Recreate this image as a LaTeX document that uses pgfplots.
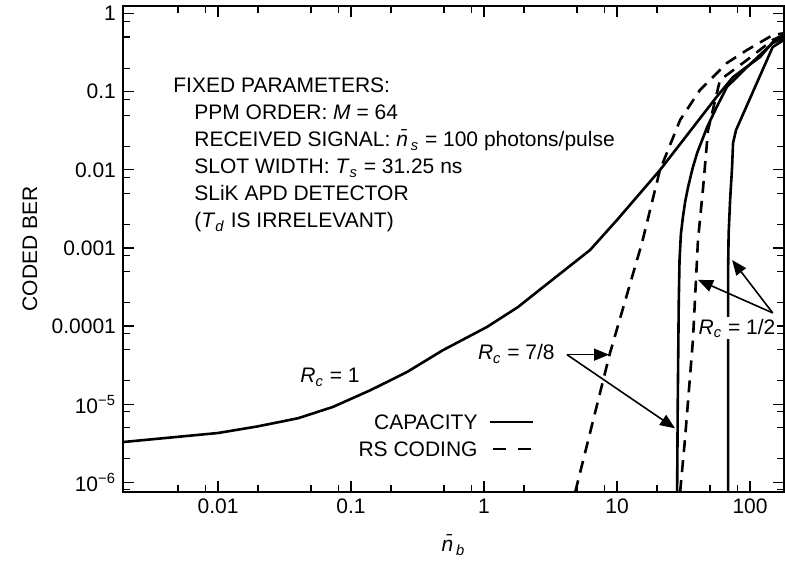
\documentclass[border=0pt]{standalone}
\usepackage{fontspec}
\setmainfont{Liberation Sans}
\usepackage{pgfplots}
\pgfplotsset{compat=1.18}
\usetikzlibrary{arrows.meta}

\newcommand\Rc{\textit{R}\textsubscript{\textit{c}}}
\newcommand\nb[1]{\textit{\={n}}\textsubscript{\textit{#1}}}

\tikzset{
  capline/.style={black, line width=1.3pt, no marks, line join=round},
  rsline/.style={black, line width=1.3pt, no marks, dash pattern=on 6pt off 4pt},
  ann/.style={line width=0.8pt, -{Triangle[length=7.5pt,width=6pt]}},
}

\begin{document}
\begin{tikzpicture}[font=\fontsize{10.5}{12.6}\selectfont]
\begin{axis}[
  scale only axis,
  width=330.5pt, height=243pt,
  xmode=log, ymode=log,
  xmin=0.00193, xmax=180,
  ymin=7.5e-7, ymax=1.25,
  xtick={0.01,0.1,1,10,100},
  xticklabels={0.01,0.1,1,10,100},
  ytick={1e-6,1e-5,1e-4,1e-3,1e-2,1e-1,1},
  yticklabels={10\textsuperscript{−6},10\textsuperscript{−5},0.0001,0.001,0.01,0.1,1},
  minor xtick={0.005,0.008,0.02,0.05,0.08,0.2,0.5,0.8,2,5,8,20,50,80},
  minor ytick={8e-7,2e-6,5e-6,8e-6,2e-5,5e-5,8e-5,2e-4,5e-4,8e-4,
               2e-3,5e-3,8e-3,2e-2,5e-2,8e-2,0.2,0.5,0.8},
  major tick length=5.5pt, minor tick length=3.5pt,
  tick style={black, line width=0.6pt},
  axis line style={line width=1pt},
  tick label style={font=\fontsize{10.5}{12.6}\selectfont},
  xlabel={\nb{b}},
  ylabel={CODED BER},
  xlabel style={at={(axis description cs:0.5,-0.109)}, anchor=center},
  ylabel style={at={(axis description cs:-0.141,0.5)}, anchor=center},
]
% R_c = 1, capacity
\addplot[capline] coordinates {(0.00193,3.27e-6)(0.01,4.27e-6)(0.02,5.2e-6)(0.04,6.6e-6)
  (0.073,9.2e-6)(0.139,1.5e-5)(0.264,2.58e-5)(0.49,4.9e-5)(1.05,9.7e-5)
  (1.8,1.75e-4)(2.78,3.15e-4)(6.27,9.4e-4)(10,0.00228)(21,0.0099)
  (56,0.0855)(74.5,0.154)(119,0.278)(148,0.43)(180,0.50)};
% R_c = 7/8, capacity
\addplot[capline] coordinates {(28.3,7.5e-7)(28.6,1e-5)(29.1,2e-4)(29.5,7e-4)
  (30.2,0.0015)(31.3,0.0025)(32.6,0.004)(34.2,0.006)(37,0.0105)(40,0.0164)
  (47.5,0.035)(56,0.063)(67,0.115)(95,0.207)(148,0.42)(180,0.49)};
% R_c = 1/2, capacity
\addplot[capline] coordinates {(68.4,7.5e-7)(68.4,5e-4)(69,0.0015)(70.8,0.0041)
  (73.3,0.0109)(74.5,0.022)(78.5,0.0323)(148,0.373)(180,0.46)};
% R_c = 7/8, RS coding
\addplot[rsline] coordinates {(4.85,7.5e-7)(8.85,4.5e-5)
  (15.4,0.00116)(21,0.0099)(29.8,0.0434)(42,0.105)(67,0.233)(95,0.342)
  (148,0.53)(180,0.56)};
% R_c = 1/2, RS coding
\addplot[rsline] coordinates {(29.8,7.5e-7)(32.4,3.5e-6)
  (37.2,6.6e-5)(40.6,0.00126)(44.4,0.006)(48.3,0.032)(59.4,0.141)(95,0.255)
  (148,0.46)(180,0.53)};

% legend
\node[anchor=east, inner sep=0pt] at (rel axis cs:0.537,0.144) {CAPACITY};
\draw[line width=1.3pt] (rel axis cs:0.555,0.144) -- (rel axis cs:0.620,0.144);
\node[anchor=east, inner sep=0pt] at (rel axis cs:0.537,0.0885) {RS CODING};
\draw[line width=1.3pt, dash pattern=on 6.5pt off 6pt]
  (rel axis cs:0.560,0.0885) -- (rel axis cs:0.620,0.0885);

% fixed parameters
\node[anchor=north west, align=left, inner sep=0pt,
  font=\fontsize{10.5}{13.5}\selectfont] at (rel axis cs:0.0756,0.852)
  {FIXED PARAMETERS:\\
   \hspace*{10.5pt}PPM ORDER: \textit{M} = 64\\
   \hspace*{10.5pt}RECEIVED SIGNAL: \nb{s} = 100 photons/pulse\\
   \hspace*{10.5pt}SLOT WIDTH: \textit{T}\textsubscript{\textit{s}} = 31.25 ns\\
   \hspace*{10.5pt}SLiK APD DETECTOR\\
   \hspace*{10.5pt}(\textit{T}\textsubscript{\textit{d}} IS IRRELEVANT)};

% curve labels and arrows
\node at (axis cs:0.0695,2.2e-5) {\Rc{} = 1};
\node[anchor=east, inner sep=1pt] at (axis cs:3.54,4.4e-5) {\Rc{} = 7/8};
\draw[ann] (axis cs:4.2,4.3e-5) -- (axis cs:8.7,4.3e-5);
\draw[ann] (axis cs:4.2,4.3e-5) -- (axis cs:27.3,4.9e-6);
\node[fill=white, inner sep=1pt] at (axis cs:79.8,9.4e-5) {\Rc{} = 1/2};
\draw[ann] (axis cs:148,1.47e-4) -- (axis cs:73.3,7e-4);
\draw[ann] (axis cs:148,1.47e-4) -- (axis cs:40.6,3.9e-4);
\end{axis}
\pgfresetboundingbox
\path (current axis.south west) ++(-61.5pt,-34.5pt) rectangle ++(392.5pt,280.5pt);
\end{tikzpicture}
\end{document}
